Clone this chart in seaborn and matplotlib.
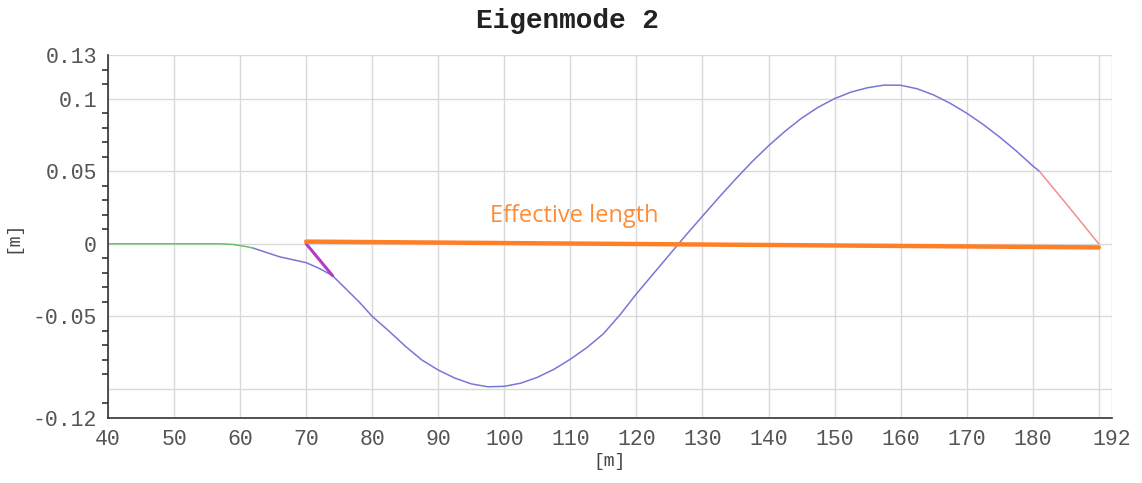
import numpy as np
import pandas as pd
import seaborn as sns
import matplotlib.pyplot as plt
from matplotlib.ticker import MultipleLocator

# mode shape segments [m] vs [m]
green_x = [40, 45, 50, 55, 57, 59, 61, 62]
green_y = [0.0, 0.0, 0.0, 0.0, 0.0, -0.0005, -0.002, -0.003]

blue_x = [62, 64, 66, 68, 70, 72, 74, 76, 78, 80, 82.5, 85, 87.5, 90, 92.5, 95,
          97.5, 100, 102.5, 105, 107.5, 110, 112.5, 115, 117.5, 120, 122.5, 125,
          127.5, 130, 132.5, 135, 137.5, 140, 142.5, 145, 147.5, 150, 152.5, 155,
          157.5, 160, 162.5, 165, 167.5, 170, 172.5, 175, 177.5, 180, 181]
blue_y = [-0.003, -0.006, -0.009, -0.011, -0.013, -0.017, -0.022, -0.031, -0.040,
          -0.050, -0.060, -0.0705, -0.080, -0.087, -0.0925, -0.0965, -0.0985,
          -0.0982, -0.0960, -0.0920, -0.0865, -0.0795, -0.0715, -0.0620, -0.0490,
          -0.0345, -0.0210, -0.0075, 0.0060, 0.0190, 0.0320, 0.0445, 0.0565,
          0.0675, 0.0775, 0.0865, 0.0940, 0.1000, 0.1045, 0.1075, 0.1093, 0.1092,
          0.1068, 0.1025, 0.0968, 0.0900, 0.0822, 0.0735, 0.0640, 0.0537, 0.0500]

red_x = [181, 183, 185, 187.5, 190]
red_y = [0.05, 0.039, 0.028, 0.014, 0.0]

kink_x = [70, 74]
kink_y = [0.0, -0.022]

eff_x = [70, 190]
eff_y = [0.0015, -0.0025]

x_ticks = [40, 50, 60, 70, 80, 90, 100, 110, 120, 130, 140, 150, 160, 170, 180, 190, 192]
x_labels = ['40', '50', '60', '70', '80', '90', '100', '110', '120', '130', '140',
            '150', '160', '170', '180', '', '192']
y_ticks = [-0.12, -0.1, -0.05, 0, 0.05, 0.1, 0.13]
y_labels = ['-0.12', '', '-0.05', '0', '0.05', '0.1', '0.13']

sns.set_style("white")
mono = ['Liberation Mono', 'DejaVu Sans Mono']

fig = plt.figure(figsize=(11.42, 4.83), dpi=100)
ax = fig.add_axes([0.0946, 0.1346, 0.8791, 0.7514])

def seg(x, y, color, lw):
    df = pd.DataFrame({'x': x, 'y': y})
    sns.lineplot(data=df, x='x', y='y', sort=False, color=color, linewidth=lw, ax=ax)

seg(green_x, green_y, '#6cbf6c', 1.1)
seg(blue_x, blue_y, '#7777d6', 1.1)
seg(red_x, red_y, '#ee9090', 1.1)
seg(kink_x, kink_y, '#b23cc4', 2.2)
seg(eff_x, eff_y, '#ff7f27', 3.2)

ax.text(97.9, 0.019, 'Effective length', color='#ff8c33', fontsize=17,
        family=['Open Sans', 'DejaVu Sans'], ha='left', va='center')

ax.set_xlim(40, 192)
ax.set_ylim(-0.12, 0.13)
ax.set_xticks(x_ticks)
ax.set_xticklabels(x_labels)
ax.set_yticks(y_ticks)
ax.set_yticklabels(y_labels)
ax.yaxis.set_minor_locator(MultipleLocator(0.01))
ax.grid(True, which='major', color='#d9d9d9', linewidth=1.0)
ax.set_axisbelow(True)

for side in ['top', 'right']:
    ax.spines[side].set_visible(False)
for side in ['bottom', 'left']:
    ax.spines[side].set_color('#333333')
    ax.spines[side].set_linewidth(1.2)

ax.tick_params(axis='both', which='major', direction='out', length=5, width=1.2,
               color='#333333', labelcolor='#555555', labelsize=15.5, pad=3)
ax.tick_params(axis='y', which='minor', direction='out', length=4, width=1.2,
               color='#333333', left=True)
for lbl in ax.get_xticklabels() + ax.get_yticklabels():
    lbl.set_family(mono)

ax.set_xlabel('[m]', family=mono, fontsize=13, color='#444444', labelpad=2)
ax.set_ylabel('[m]', family=mono, fontsize=13, color='#444444')
ax.yaxis.set_label_coords(-0.086, 0.5)

fig.suptitle('Eigenmode 2', family=mono, fontsize=20, fontweight='bold',
             color='#222222', x=0.497, y=0.983)

plt.savefig('out.png', dpi=100)
